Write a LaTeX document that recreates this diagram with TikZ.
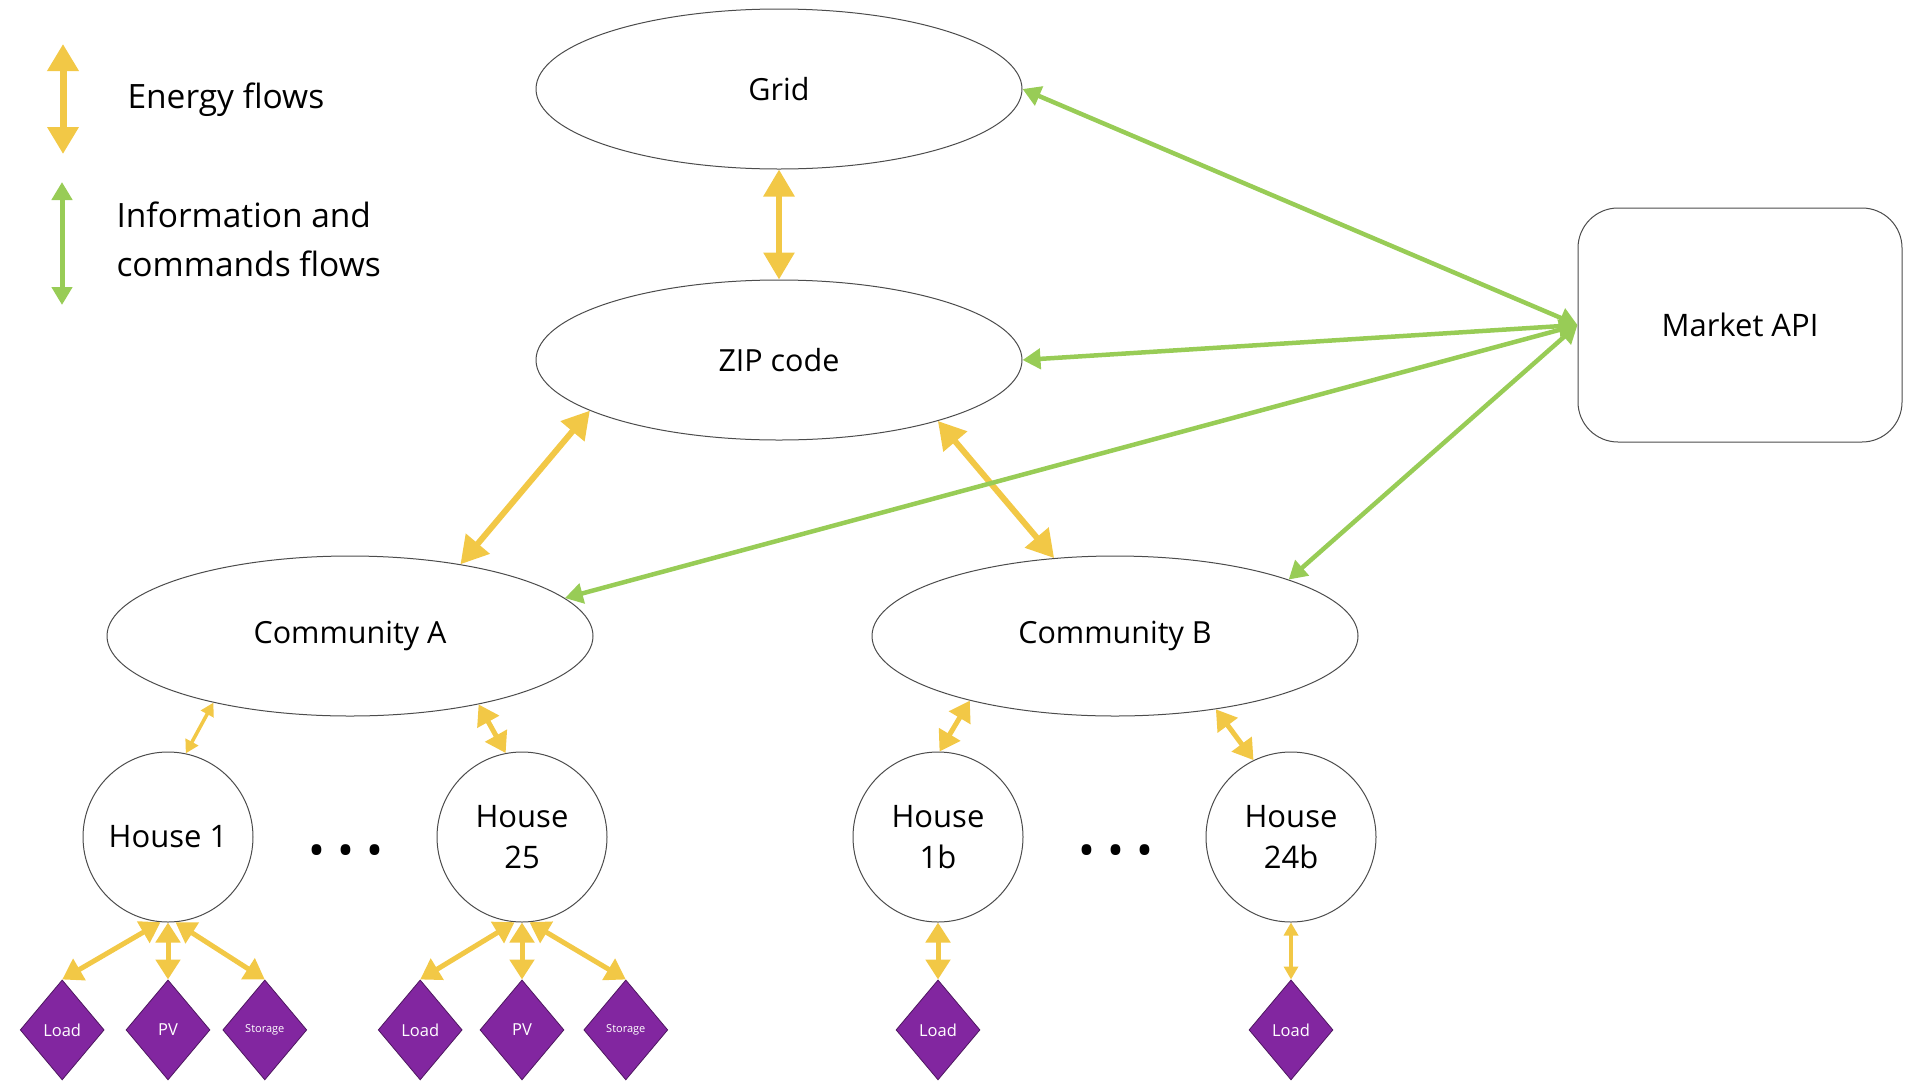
\documentclass[tikz,border=0pt]{standalone}
\usepackage{fontspec}
\setmainfont{Open Sans}
\usepackage{tikz}
\usetikzlibrary{shapes.geometric,arrows.meta,positioning}
\definecolor{energyyellow}{RGB}{242,200,70}
\definecolor{infogreen}{RGB}{152,204,86}
\definecolor{devpurple}{RGB}{130,38,160}

\begin{document}
\begin{tikzpicture}[
  x=1pt, y=-1pt,
  level/.style={ellipse, draw=black!70, line width=1pt, minimum width=486pt,
                minimum height=160pt, font=\fontsize{30.5}{36}\selectfont},
  house/.style={circle, draw=black!70, line width=1pt, minimum size=170pt,
                align=center, font=\fontsize{31}{41}\selectfont},
  device/.style={diamond, draw=devpurple!60!black, fill=devpurple, line width=0.8pt,
                 minimum width=84pt, minimum height=100pt, inner sep=0pt,
                 text=white, font=\fontsize{16.5}{18}\selectfont},
  energy/.style={{Triangle[length=27pt,width=30pt]}-{Triangle[length=27pt,width=30pt]},
                 draw=energyyellow, line width=6pt},
  energymid/.style={{Triangle[length=20pt,width=24pt]}-{Triangle[length=20pt,width=24pt]},
                    draw=energyyellow, line width=5pt},
  energysmall/.style={{Triangle[length=13pt,width=14pt]}-{Triangle[length=13pt,width=14pt]},
                      draw=energyyellow, line width=3.5pt},
  info/.style={{Triangle[length=18pt,width=20pt]}-{Triangle[length=18pt,width=20pt]},
               draw=infogreen, line width=4.5pt},
  legend/.style={anchor=west, align=left, font=\fontsize{33.5}{49}\selectfont},
  dots/.style={font=\fontsize{45}{45}\selectfont}
]
\useasboundingbox (0,0) rectangle (1932,1090);

% legend
\coordinate (eTop) at (63,44);
\coordinate (eBot) at (63,154);
\coordinate (iTop) at (62,182);
\coordinate (iBot) at (62,305);
\draw[energy, line width=7pt] (eTop) -- (eBot);
\draw[info, line width=5pt] (iTop) -- (iBot);
\node[legend] (energyLbl) at (124,100) {Energy flows};
\node[legend] (infoLbl) at (113,239) {Information and\\commands flows};

% levels
\node[level] (grid) at (779,89) {Grid};
\node[level] (zip) at (779,360) {ZIP code};
\node[level] (commA) at (350,636) {Community A};
\node[level] (commB) at (1115,636) {Community B};
\node[draw=black!70, line width=1pt, rounded corners=40pt, minimum width=324pt,
      minimum height=234pt, font=\fontsize{31}{36}\selectfont] (market) at (1740,325) {Market API};

% houses
\node[house] (house1) at (168,837) {House 1};
\node[house] (house25) at (522,837) {House\\25};
\node[house] (house1b) at (938,837) {House\\1b};
\node[house] (house24b) at (1291,837) {House\\24b};
\node[dots] (dotsA) at (346,856) {• • •};
\node[dots] (dotsB) at (1116,856) {• • •};

% devices
\node[device, below=57pt of house1] (pv1) {PV};
\node[device, left=21pt of pv1] (load1) {Load};
\node[device, right=12pt of pv1, font=\fontsize{11}{13}\selectfont] (store1) {Storage};
\node[device, below=57pt of house25] (pv25) {PV};
\node[device, left=17pt of pv25] (load25) {Load};
\node[device, right=19pt of pv25, font=\fontsize{11}{13}\selectfont] (store25) {Storage};
\node[device, below=57pt of house1b] (load1b) {Load};
\node[device, below=57pt of house24b] (load24b) {Load};

% energy flows
\draw[energy] (grid.south) -- (zip.north);
\draw[energy] (zip.195) -- (commA.33);
\draw[energy] (zip.-21) -- (commB.128);
\draw[energysmall] (commA.206) -- (house1.78);
\draw[energymid] (commA.-28) -- (house25.101);
\draw[energymid] (commB.-156) -- (house1b.89);
\draw[energymid] (commB.-36) -- (house24b.116);
\draw[energymid] (house1.-95) -- (load1.north);
\draw[energymid] (house1.south) -- (pv1.north);
\draw[energymid] (house1.-85) -- (store1.north);
\draw[energymid] (house25.-95) -- (load25.north);
\draw[energymid] (house25.south) -- (pv25.north);
\draw[energymid] (house25.-85) -- (store25.north);
\draw[energymid] (house1b.south) -- (load1b.north);
\draw[energysmall] (house24b.south) -- (load24b.north);

% information flows
\draw[info] (market.west) -- (grid.east);
\draw[info] (market.west) -- (zip.east);
\draw[info] (market.west) -- (commA.10);
\draw[info] (market.west) -- (commB.18);
\end{tikzpicture}
\end{document}
